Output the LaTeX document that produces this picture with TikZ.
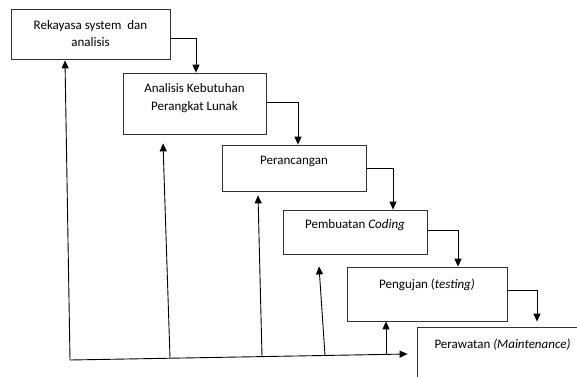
\documentclass[tikz,border=0pt]{standalone}
\usepackage{fontspec}
\setmainfont{Carlito}
\usepackage{tikz}
\usetikzlibrary{arrows.meta,calc}
\tikzstyle{stepbox} = [draw=black!80, line width=0.8pt, rectangle, inner sep=0pt]
\tikzstyle{steptext} =[font=\fontsize{13}{17.5}\selectfont, align=center, inner sep=1pt]
\tikzstyle{flow} = [draw=black, line width=0.9pt, -{Triangle[length=8pt,width=7pt]}]

\begin{document}
\begin{tikzpicture}[x=1pt,y=1pt]
    \useasboundingbox (0,0) rectangle (577,376);
    \node [stepbox, minimum width=159pt, minimum height=50pt] (b1) at (90.5,342) {};
    \node [stepbox, minimum width=143pt, minimum height=61pt] (b2) at (194.5,272.5) {};
    \node [stepbox, minimum width=144pt, minimum height=46pt] (b3) at (294,208) {};
    \node [stepbox, minimum width=144pt, minimum height=44pt] (b4) at (355,144) {};
    \node [stepbox, minimum width=160pt, minimum height=54pt] (b5) at (427,82) {};
    \node [stepbox, minimum width=175pt, minimum height=63pt] (b6) at (504.5,17.5) {};
    \node [steptext] (t1) at ([yshift=0.5pt]b1.center) {Rekayasa system~ dan\\analisis};
    \node [steptext] (t2) at ([yshift=5.5pt]b2.center) {Analisis Kebutuhan\\Perangkat Lunak};
    \node [steptext] (t3) at ([yshift=7pt]b3.center) {Perancangan};
    \node [steptext] (t4) at ([yshift=7pt]b4.center) {Pembuatan \textit{Coding}};
    \node [steptext] (t5) at ([yshift=9pt]b5.center) {Pengujan (\textit{testing)}};
    \node [steptext] (t6) at ([shift={(-2pt,13.5pt)}]b6.center) {Perawatan \textit{(Maintenance)}};
    % turun ke tahap berikutnya
    \draw [flow] ([yshift=-4pt]b1.east) -| ([xshift=1.5pt]b2.north);
    \draw [flow] ([yshift=1.5pt]b2.east) -| ([xshift=4pt]b3.north);
    \draw [flow] (b3.east) -| ([xshift=38pt]b4.north);
    \draw [flow] ([yshift=2pt]b4.east) -| ([xshift=31pt]b5.north);
    \draw [flow] ([yshift=4pt]b5.east) -| ([shift={(32.5pt,5pt)}]b6.north);
    % umpan balik
    \coordinate (f1) at (70,16);
    \coordinate (f2) at (170,18);
    \coordinate (f3) at (262,19.5);
    \coordinate (f4) at (325,20.5);
    \coordinate (f5) at (386,21.6);
    \coordinate (fend) at ([shift={(-9pt,4.5pt)}]b6.west);
    \draw [flow] (f1) -- (fend);
    \draw [flow] (f1) -- ([shift={(-25.5pt,-1pt)}]b1.south);
    \draw [flow] (f2) -- ([shift={(-31.5pt,-9pt)}]b2.south);
    \draw [flow] (f3) -- ([shift={(-36pt,-4pt)}]b3.south);
    \draw [flow] (f4) -- ([shift={(-36pt,-12pt)}]b4.south);
    \draw [flow] (f5) -- ([shift={(-41pt,0pt)}]b5.south);
\end{tikzpicture}
\end{document}
